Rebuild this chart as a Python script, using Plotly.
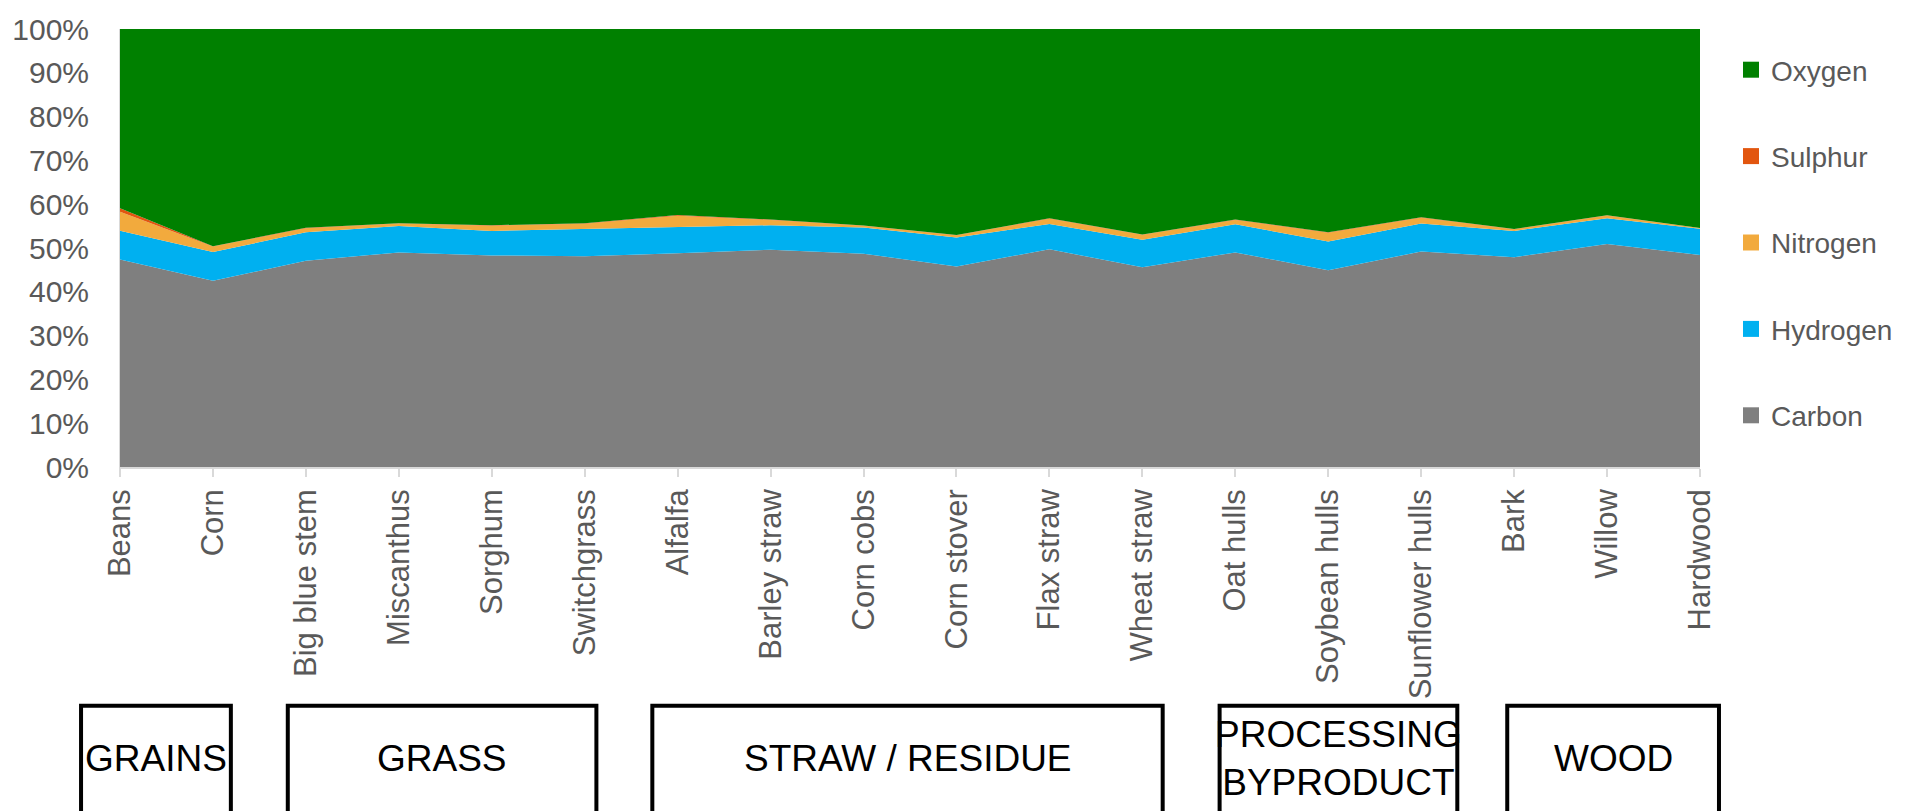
import plotly.graph_objects as go

categories = ["Beans", "Corn", "Big blue stem", "Miscanthus", "Sorghum", "Switchgrass",
              "Alfalfa", "Barley straw", "Corn cobs", "Corn stover", "Flax straw", "Wheat straw",
              "Oat hulls", "Soybean hulls", "Sunflower hulls", "Bark", "Willow", "Hardwood"]

carbon   = [47.4, 42.5, 47.1, 49.0, 48.3, 48.1, 48.8, 49.6, 48.7, 45.8, 49.7, 45.6, 49.0, 44.9, 49.2, 47.9, 50.9, 48.4]
hydrogen = [6.55, 6.56, 6.5, 6.0, 5.6, 6.2, 5.85, 5.6, 6.0, 6.6, 5.8, 6.3, 6.4, 6.6, 6.4, 6.0, 5.9, 6.0]
nitrogen = [4.3, 1.3, 0.9, 0.6, 1.2, 1.25, 2.7, 1.2, 0.4, 0.5, 1.2, 1.1, 1.0, 2.0, 1.3, 0.4, 0.6, 0.15]
sulphur  = [0.8, 0.05, 0.1, 0.05, 0.1, 0.1, 0.2, 0.1, 0.05, 0.05, 0.1, 0.1, 0.1, 0.1, 0.1, 0.05, 0.05, 0.02]
oxygen   = [round(100 - c - h - n - s, 2) for c, h, n, s in zip(carbon, hydrogen, nitrogen, sulphur)]

series_names = ["Carbon", "Hydrogen", "Nitrogen", "Sulphur", "Oxygen"]
series_vals = [carbon, hydrogen, nitrogen, sulphur, oxygen]
series_colors = ["#7f7f7f", "#00b0f0", "#f2aa3d", "#e2560f", "#008000"]

group_labels = ["GRAINS", "GRASS", "STRAW / RESIDUE", "PROCESSING<br>BYPRODUCT", "WOOD"]

W, H = 1906, 811
PL, PR, PT, PB = 118, 1700, 25, 467
FONT = "Liberation Sans, Arial, sans-serif"
GREY_TXT = "#595959"

fig = go.Figure()
for name, vals, col in zip(series_names, series_vals, series_colors):
    fig.add_trace(go.Scatter(
        x=categories, y=vals, name=name, mode="lines", stackgroup="one",
        line=dict(width=0, color=col), fillcolor=col, showlegend=False,
        hoverinfo="x+y+name"))

# legend entries (square markers), top to bottom
for name, col in list(zip(series_names, series_colors))[::-1]:
    fig.add_trace(go.Scatter(
        x=[None], y=[None], name=name, mode="markers",
        marker=dict(symbol="square", size=16, color=col),
        legendgroup=name, showlegend=True))


def px2x(px):
    return (px - PL) / (PR - PL)


def py2y(py):
    return (PB - py) / (PB - PT)


box_px = [(77, 231), (284, 597), (649, 1164), (1217, 1459), (1505, 1721)]
BOX_TOP = 706
BOX_BOT = 830
LW = 4
shapes = []
annotations = []
for (x0, x1), lab in zip(box_px, group_labels):
    shapes.append(dict(type="rect", xref="paper", yref="paper",
                       x0=px2x(x0 + LW / 2), x1=px2x(x1 - LW / 2),
                       y0=py2y(BOX_TOP + LW / 2), y1=py2y(BOX_BOT),
                       line=dict(color="#000000", width=LW), fillcolor="rgba(0,0,0,0)"))
    cy = 761
    annotations.append(dict(xref="paper", yref="paper", x=px2x((x0 + x1) / 2), y=py2y(cy),
                            text=lab, showarrow=False, xanchor="center", yanchor="middle",
                            font=dict(family=FONT, size=37, color="#000000")))

fig.update_layout(
    width=W, height=H,
    margin=dict(l=PL, r=W - PR, t=PT, b=H - PB, pad=0),
    paper_bgcolor="white", plot_bgcolor="white",
    showlegend=True,
    legend=dict(xref="container", yref="container", x=1731 / W, y=1 - 45 / H,
                xanchor="left", yanchor="top", traceorder="grouped",
                tracegroupgap=47, itemwidth=30,
                font=dict(family=FONT, size=28, color=GREY_TXT),
                bgcolor="rgba(0,0,0,0)"),
    xaxis=dict(type="category", range=[0, len(categories) - 1], showgrid=False,
               showline=True, linecolor="#d9d9d9", linewidth=1.5,
               ticks="outside", ticklen=8, tickcolor="#d9d9d9", tickwidth=1.5,
               tickangle=-90, ticklabelstandoff=0,
               tickfont=dict(family=FONT, size=31, color=GREY_TXT), zeroline=False),
    yaxis=dict(range=[0, 100], dtick=10, tick0=0, ticksuffix="%", showgrid=False,
               showline=True, linecolor="#d9d9d9", linewidth=1, ticks="",
               ticklabelstandoff=24,
               tickfont=dict(family=FONT, size=30, color=GREY_TXT), zeroline=False),
    shapes=shapes, annotations=annotations,
    hovermode="x unified",
)

fig.write_html("out.html")
